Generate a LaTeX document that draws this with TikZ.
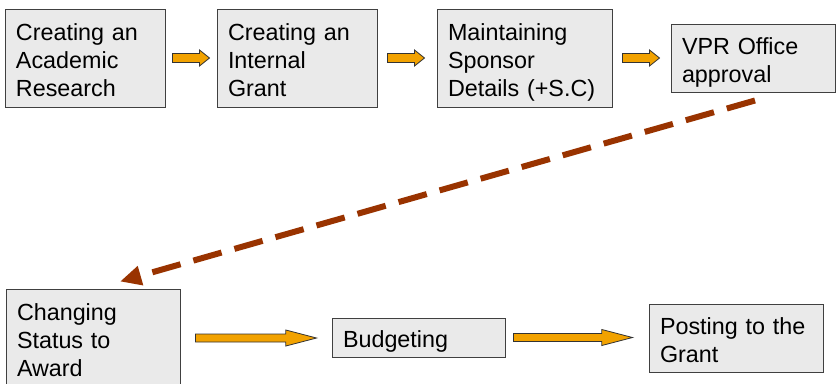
\documentclass[tikz,border=0pt]{standalone}
\usepackage{fontspec}
\setmainfont{Liberation Sans}
\usepackage{xcolor}
\usetikzlibrary{arrows.meta,calc}

\definecolor{boxgray}{HTML}{EAEAEA}
\definecolor{arroworange}{HTML}{F2A200}
\definecolor{dashbrown}{HTML}{993300}

\tikzset{
  stage/.style={draw=black!75, fill=boxgray, line width=0.75pt,
    inner xsep=8.25pt, inner ysep=0pt, align=left,
    font=\fontsize{17.5}{21}\selectfont, text height=19.5pt,
    execute at end node={\rule[-4.5pt]{0pt}{4.5pt}}},
  flow/.style n args={3}{draw=black!80, fill=arroworange, line width=0.6pt,
    to path={let \p1=(\tikztostart), \p2=(\tikztotarget) in
      (\x1,\y1+#1) -- (\x2-#3,\y1+#1) -- (\x2-#3,\y1+#2) -- (\x2,\y1)
      -- (\x2-#3,\y1-#2) -- (\x2-#3,\y1-#1) -- (\x1,\y1-#1) -- cycle}},
  smallflow/.style={flow={3.4pt}{6pt}{7.5pt}},
  bigflow/.style={flow={3pt}{6pt}{23pt}},
  handover/.style={draw=dashbrown, line width=4.5pt, dash pattern=on 22pt off 10pt,
    -{Triangle[length=16pt,width=14pt]}}
}

\begin{document}
\begin{tikzpicture}[x=0.75pt,y=-0.75pt]
\useasboundingbox (0,0) rectangle (837,383);

\node[stage, text width=103.5pt, minimum height=73.5pt] (research) at (85,58) {Creating an\\Academic\\Research};
\node[stage, text width=103.5pt, minimum height=73.5pt] (grant) at (297,58) {Creating an\\Internal\\Grant};
\node[stage, text width=114.75pt, minimum height=73.5pt] (sponsor) at (524.5,58) {Maintaining\\Sponsor\\Details (+S.C)};
\node[stage, text width=106.5pt, minimum height=51pt] (vpr) at (753,58) {VPR Office\\approval};

\node[stage, text width=114pt, minimum height=73.5pt] (award) at (93,338) {Changing\\Status to\\Award};
\node[stage, text width=113.25pt, minimum height=29.25pt] (budget) at (418.5,337.5) {Budgeting};
\node[stage, text width=114pt, minimum height=51pt] (posting) at (736,338) {Posting to the\\Grant};

\draw[smallflow] ([xshift=5.25pt]research.east) to ([xshift=-5.25pt]grant.west);
\draw[smallflow] ([xshift=7.5pt]grant.east) to ([xshift=-9pt]sponsor.west);
\draw[smallflow] ([xshift=7.5pt]sponsor.east) to ([xshift=-8.25pt]vpr.west);

\draw[handover] ([xshift=1.5pt,yshift=-6pt]vpr.south) -- ([xshift=20.25pt,yshift=5.25pt]award.north);

\draw[bigflow] ([xshift=11.25pt]award.east) to ([xshift=-11.25pt]budget.west);
\draw[bigflow] ([xshift=6pt]budget.east) to ([xshift=-12pt]posting.west);
\end{tikzpicture}
\end{document}
